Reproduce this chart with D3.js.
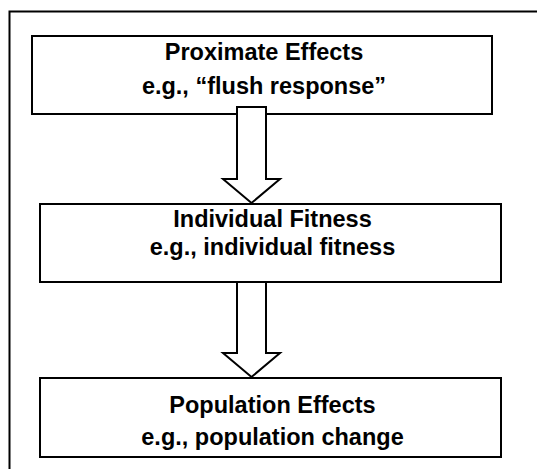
<!DOCTYPE html>
<html>
<head>
<meta charset="utf-8">
<script src="https://cdn.jsdelivr.net/npm/d3@7"></script>
<style>
    html, body { margin: 0; padding: 0; background: #fff; }
    svg { display: block; }
</style>
</head>
<body>
<svg id="chart"></svg>
<script>
// 流程图文字
const levels = ["Proximate Effects", "Individual Fitness", "Population Effects"];
const examples = ["e.g., \u201cflush response\u201d", "e.g., individual fitness", "e.g., population change"];

const width = 537, height = 469;

// 方框位置（按层级）
const boxTop = d3.scaleOrdinal().domain(levels).range([36, 204, 378]);
const boxBottom = d3.scaleOrdinal().domain(levels).range([114, 282, 457]);
const boxLeft = d3.scaleOrdinal().domain(levels).range([32, 40, 40]);
const boxRight = d3.scaleOrdinal().domain(levels).range([492, 501, 501]);
// 文字基线相对方框顶部
const line1 = d3.scaleOrdinal().domain(levels).range([24, 23, 35]);
const line2 = d3.scaleOrdinal().domain(levels).range([58, 51, 67]);

const svg = d3.select("#chart")
    .attr("width", width)
    .attr("height", height);

// 外框（右侧和底部被裁掉）
svg.append("path")
    .attr("d", `M9.5,${height + 5}V11.5H${width + 5}`)
    .attr("fill", "none")
    .attr("stroke", "#000")
    .attr("stroke-width", 2);

const box = svg.selectAll(".box")
    .data(levels)
    .join("g")
    .attr("class", "box");

box.append("rect")
    .attr("x", d => boxLeft(d))
    .attr("y", d => boxTop(d))
    .attr("width", d => boxRight(d) - boxLeft(d))
    .attr("height", d => boxBottom(d) - boxTop(d))
    .attr("fill", "#fff")
    .attr("stroke", "#000")
    .attr("stroke-width", 2);

const textX = d => (boxLeft(d) + boxRight(d)) / 2 + 2;

box.append("text")
    .attr("x", textX)
    .attr("y", d => boxTop(d) + line1(d))
    .attr("text-anchor", "middle")
    .style("font-family", "'Liberation Sans', Arial, sans-serif")
    .style("font-weight", "bold")
    .style("font-size", "23.5px")
    .text(d => d);

box.append("text")
    .attr("x", textX)
    .attr("y", (d, i) => boxTop(d) + line2(d))
    .attr("text-anchor", "middle")
    .style("font-family", "'Liberation Sans', Arial, sans-serif")
    .style("font-weight", "bold")
    .style("font-size", "23.5px")
    .text((d, i) => examples[i]);

// 箭头：连接相邻两层
const arrows = d3.pairs(levels);
const cx = 251.5, shaftHalf = 14.5, headHalf = 28.5, headLen = 24;
const shaftStart = [107, 282];

svg.selectAll(".arrow")
    .data(arrows)
    .join("path")
    .attr("class", "arrow")
    .attr("d", (d, i) => {
        const top = shaftStart[i];
        const tip = boxTop(d[1]) - 1;
        const ht = tip - headLen;
        return d3.line()([
            [cx - shaftHalf, top], [cx + shaftHalf, top], [cx + shaftHalf, ht],
            [cx + headHalf, ht], [cx, tip], [cx - headHalf, ht], [cx - shaftHalf, ht]
        ]) + "Z";
    })
    .attr("fill", "#fff")
    .attr("stroke", "#000")
    .attr("stroke-width", 2)
    .attr("stroke-linejoin", "miter");
</script>
</body>
</html>
